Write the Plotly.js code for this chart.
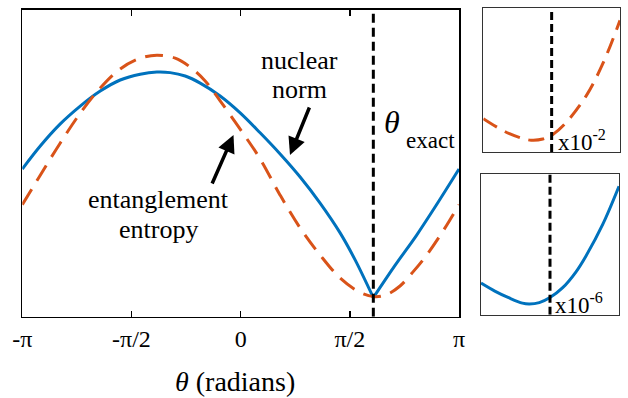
<!DOCTYPE html>
<html><head><meta charset="utf-8">
<script src="https://cdn.plot.ly/plotly-3.0.1.min.js"></script>
<style>html,body{margin:0;padding:0;background:#fff}#chart{width:628px;height:398px}</style>
</head><body><div id="chart"></div>
<script>
const PI = Math.PI;
const thetaExact = 1.909;

// Main plot: nuclear norm (blue, solid) – arbitrary normalised units
const nuclearTheta = [-3.1416,-2.883,-2.595,-2.308,-2.020,-1.733,-1.445,-1.205,-1.014,-0.798,-0.582,-0.295,-0.007,0.280,0.568,0.856,1.143,1.431,1.647,1.909,2.221,2.533,2.825,3.1416];
const nuclearValues = [0.481,0.556,0.628,0.686,0.735,0.771,0.790,0.797,0.795,0.784,0.761,0.719,0.664,0.599,0.530,0.455,0.370,0.273,0.185,0.062,0.167,0.266,0.367,0.481];

// Main plot: entanglement entropy (orange, dashed)
const entropyTheta = [-3.1416,-2.883,-2.595,-2.308,-2.020,-1.733,-1.445,-1.205,-0.942,-0.726,-0.510,-0.295,-0.007,0.280,0.568,0.856,1.143,1.431,1.719,1.934,2.101,2.293,2.480,2.677,2.912,3.1416];
const entropyValues = [0.365,0.461,0.566,0.663,0.745,0.807,0.842,0.852,0.842,0.813,0.768,0.703,0.611,0.514,0.396,0.289,0.201,0.126,0.079,0.065,0.072,0.100,0.146,0.201,0.279,0.365];

const tickValues = [-PI, -PI/2, 0, PI/2, PI];
const tickLabels = ['-π', '-π/2', '0', 'π/2', 'π'];

// Inset (top): entropy near θ_exact, x10^-2
const insetEntropyDelta = [-1.0,-0.813,-0.618,-0.422,-0.300,-0.129,0.018,0.212,0.505,0.750,1.0];
const insetEntropyValues = [0.231,0.176,0.127,0.094,0.082,0.090,0.122,0.205,0.390,0.615,0.914];

// Inset (bottom): nuclear norm near θ_exact, x10^-6
const insetNuclearDelta = [-1.0,-0.8,-0.6,-0.4,-0.3,-0.155,0.0,0.184,0.377,0.522,0.764,1.0];
const insetNuclearValues = [0.225,0.168,0.121,0.082,0.076,0.086,0.122,0.192,0.305,0.418,0.642,0.913];

const W = 628, H = 398;
const X = p => p / W;
const Y = p => 1 - p / H;
const serif = '"Liberation Serif", "Times New Roman", Times, serif';
const BLUE = '#0072BD', ORANGE = '#D95319';

const cusp = nuclearTheta.indexOf(thetaExact);

const traces = [
  {x: nuclearTheta.slice(0, cusp + 1), y: nuclearValues.slice(0, cusp + 1), xaxis: 'x', yaxis: 'y',
   mode: 'lines', line: {color: BLUE, width: 3, shape: 'spline'}, hoverinfo: 'skip'},
  {x: nuclearTheta.slice(cusp), y: nuclearValues.slice(cusp), xaxis: 'x', yaxis: 'y',
   mode: 'lines', line: {color: BLUE, width: 3, shape: 'spline'}, hoverinfo: 'skip'},
  {x: entropyTheta, y: entropyValues, xaxis: 'x', yaxis: 'y',
   mode: 'lines', line: {color: ORANGE, width: 3, shape: 'spline', dash: '18px,10px'}, hoverinfo: 'skip'},
  {x: [thetaExact, thetaExact], y: [0, 1], xaxis: 'x', yaxis: 'y',
   mode: 'lines', line: {color: '#000', width: 3, dash: '9px,5px'}, hoverinfo: 'skip'},

  {x: insetEntropyDelta, y: insetEntropyValues, xaxis: 'x2', yaxis: 'y2',
   mode: 'lines', line: {color: ORANGE, width: 3, shape: 'spline', dash: '16px,9px'}, hoverinfo: 'skip'},
  {x: [0, 0], y: [0, 1], xaxis: 'x2', yaxis: 'y2',
   mode: 'lines', line: {color: '#000', width: 3, dash: '8px,4px'}, hoverinfo: 'skip'},

  {x: insetNuclearDelta, y: insetNuclearValues, xaxis: 'x3', yaxis: 'y3',
   mode: 'lines', line: {color: BLUE, width: 3, shape: 'spline'}, hoverinfo: 'skip'},
  {x: [0, 0], y: [0, 1], xaxis: 'x3', yaxis: 'y3',
   mode: 'lines', line: {color: '#000', width: 3, dash: '8px,4px'}, hoverinfo: 'skip'}
];

const boxAxis = (domain, range, anchor, color, lw) => ({
  domain: domain, range: range, anchor: anchor,
  showline: true, mirror: true, linecolor: color, linewidth: lw,
  ticks: '', showticklabels: false, showgrid: false, zeroline: false, fixedrange: true
});

const txt = (x, y, text, size, xanchor, yanchor) => ({
  xref: 'paper', yref: 'paper', x: X(x), y: Y(y), text: text, showarrow: false,
  xanchor: xanchor || 'center', yanchor: yanchor || 'middle',
  font: {family: serif, size: size, color: '#000'}
});

const layout = {
  width: W, height: H,
  margin: {l: 0, r: 0, t: 0, b: 0},
  paper_bgcolor: '#fff', plot_bgcolor: '#fff',
  showlegend: false,
  font: {family: serif, color: '#000'},
  xaxis: {
    domain: [X(22.3), X(459)], range: [-PI, PI], anchor: 'y',
    tickvals: tickValues, ticktext: tickLabels,
    ticks: 'inside', ticklen: 6, tickwidth: 1.5, tickcolor: '#000',
    showline: true, linecolor: '#000', linewidth: 1.5, mirror: 'ticks',
    showgrid: false, zeroline: false, fixedrange: true,
    tickfont: {family: serif, size: 24, color: '#000'},
    ticklabelstandoff: 0
  },
  yaxis: boxAxis([Y(316.7), Y(9.7)], [0, 1], 'x', '#000', 1.5),
  xaxis2: boxAxis([X(483.3), X(620)], [-1, 1], 'y2', '#333', 1),
  yaxis2: boxAxis([Y(152), Y(8)], [0, 1], 'x2', '#333', 1),
  xaxis3: boxAxis([X(481), X(619)], [-1, 1], 'y3', '#333', 1),
  yaxis3: boxAxis([Y(314.7), Y(174)], [0, 1], 'x3', '#333', 1),
  annotations: [
    txt(235, 381, '<i>θ</i> (radians)', 28),
    txt(299, 61, 'nuclear', 26),
    txt(299, 89, 'norm', 26),
    txt(158, 199.5, 'entanglement', 26),
    txt(158, 229.5, 'entropy', 26),
    txt(392, 122.5, '<i>θ</i>', 32),
    txt(430.5, 140, 'exact', 23),
    {xref: 'paper', yref: 'paper', x: X(290), y: Y(155), ax: 20, ay: -49, text: '', showarrow: true,
     arrowhead: 2, arrowsize: 1, arrowwidth: 3.5, arrowcolor: '#000', standoff: 0},
    {xref: 'paper', yref: 'paper', x: X(233.5), y: Y(135), ax: -22, ay: 50, text: '', showarrow: true,
     arrowhead: 2, arrowsize: 1, arrowwidth: 3.5, arrowcolor: '#000', standoff: 0},
    txt(555.5, 157, 'x10<sup>-2</sup>', 23, 'left', 'bottom'),
    txt(552.5, 320, 'x10<sup>-6</sup>', 23, 'left', 'bottom')
  ]
};

Plotly.newPlot('chart', traces, layout, {staticPlot: true, displayModeBar: false});
</script>
</body></html>
